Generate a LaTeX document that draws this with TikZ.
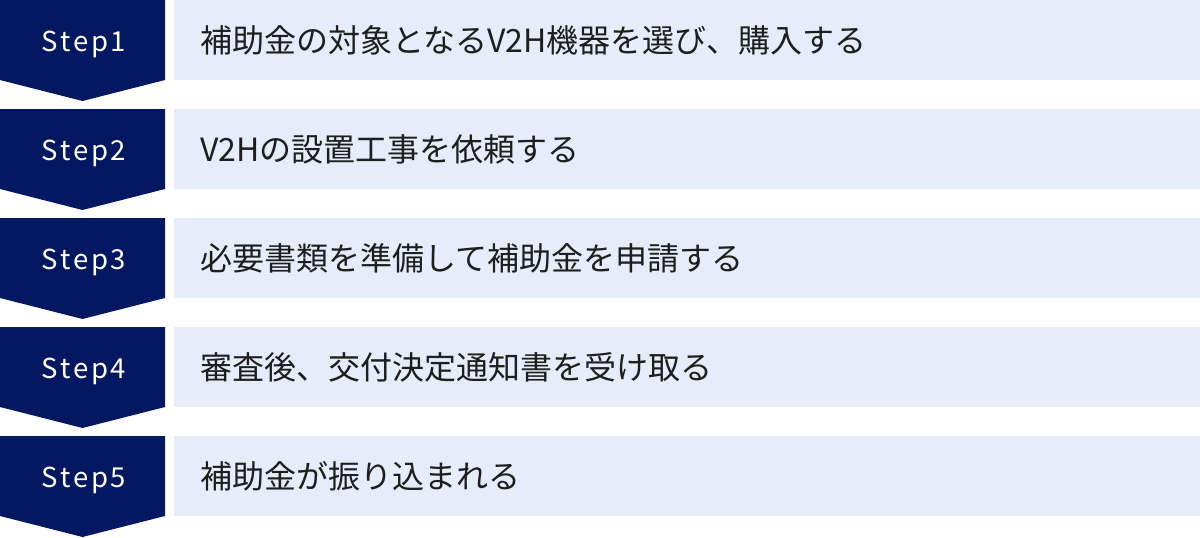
\documentclass[tikz,border=0pt]{standalone}
\usepackage{fontspec}
\setmainfont{Noto Sans CJK JP}
\definecolor{navy}{RGB}{4,24,98}
\definecolor{pale}{RGB}{230,236,249}
\definecolor{ink}{RGB}{30,30,30}

\begin{document}

\tikzset{
  stepshape/.style={fill=navy,draw=none},
  steplabel/.style={text=white,inner sep=0pt,anchor=base,
    font=\fontsize{27.5}{27.5}\selectfont\addfontfeature{LetterSpace=10}},
  bar/.style={fill=pale,draw=none,inner sep=0pt,anchor=north west,
    minimum width=1026pt,minimum height=80pt},
  bartext/.style={text=ink,inner sep=0pt,anchor=base west,
    font=\fontsize{32}{32}\selectfont}
}
\begin{tikzpicture}[x=1pt,y=-1pt]
\useasboundingbox (0,0) rectangle (1200,538);
\foreach \i/\txt in {1/補助金の対象となるV2H機器を選び、購入する,
                     2/V2Hの設置工事を依頼する,
                     3/必要書類を準備して補助金を申請する,
                     4/審査後、交付決定通知書を受け取る,
                     5/補助金が振り込まれる}{
  \pgfmathsetmacro\top{109*(\i-1)}
  \fill[stepshape] (0,\top) -- (165,\top) -- (165,\top+80) -- (82.5,\top+101) -- (0,\top+80) -- cycle;
  \node[bar] (bar\i) at (174,\top) {};
  \node[steplabel] (step\i) at (84,\top+51) {Step\i};
  \node[bartext] (text\i) at (200,\top+52) {\txt};
}
\end{tikzpicture}

\end{document}
